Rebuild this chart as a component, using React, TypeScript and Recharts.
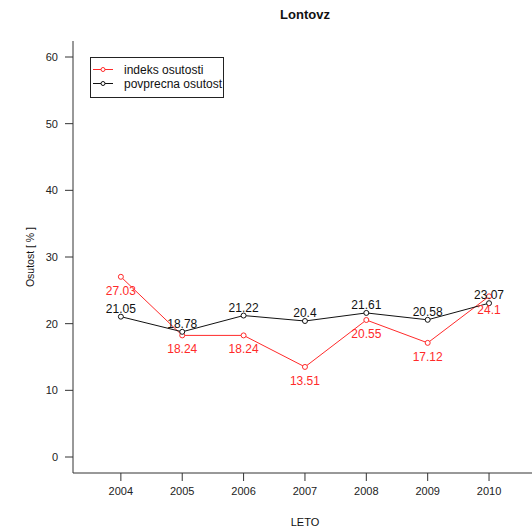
import React from 'react';
import { LineChart, Line, XAxis, YAxis, LabelList } from 'recharts';

const years = [2004, 2005, 2006, 2007, 2008, 2009, 2010];
const indeksOsutosti = [27.03, 18.24, 18.24, 13.51, 20.55, 17.12, 24.1];
const povprecnaOsutost = [21.05, 18.78, 21.22, 20.4, 21.61, 20.58, 23.07];
const yTicks = [0, 10, 20, 30, 40, 50, 60];

const data = years.map((y, i) => ({ year: y, idx: indeksOsutosti[i], avg: povprecnaOsutost[i] }));

const FONT = 'Arial, "Liberation Sans", sans-serif';
const RED = '#ff2a2a';

const dot = (color: string) => (props: any) => {
  const { cx, cy, index } = props;
  if (cx == null || cy == null) return null;
  return <circle key={index} cx={cx} cy={cy} r={2.5} fill="#fff" stroke={color} strokeWidth={1} />;
};

const makeLabel = (color: string, dy: number) => (props: any) => {
  const { x, y, value, index } = props;
  return (
    <text key={index} x={x} y={y + dy} fill={color} fontSize={12} fontFamily={FONT} textAnchor="middle" dominantBaseline="central">
      {value}
    </text>
  );
};

export default function App() {
  return (
    <div style={{ position: 'absolute', left: 0, top: 0, width: 532, height: 531, background: '#fff', fontFamily: FONT }}>
      <LineChart width={532} height={531} data={data} margin={{ top: 41, right: 0, bottom: 0, left: 0 }}>
        <XAxis
          xAxisId="top"
          orientation="top"
          dataKey="year"
          type="number"
          domain={[2003.22, 2010.7]}
          allowDataOverflow
          height={0}
          tick={false}
          tickLine={false}
          axisLine={{ stroke: '#333' }}
        />
        <XAxis
          dataKey="year"
          type="number"
          domain={[2003.22, 2010.7]}
          allowDataOverflow
          ticks={years}
          height={58}
          tickSize={8}
          tickMargin={6}
          axisLine={{ stroke: '#333' }}
          tickLine={{ stroke: '#333' }}
          tick={{ fill: '#222', fontSize: 11, fontFamily: FONT }}
        />
        <YAxis
          type="number"
          domain={[-2.4, 62.4]}
          allowDataOverflow
          ticks={yTicks}
          width={73}
          tickSize={8}
          tickMargin={7}
          axisLine={{ stroke: '#333' }}
          tickLine={{ stroke: '#333' }}
          tick={{ fill: '#222', fontSize: 11, fontFamily: FONT }}
        />
        <Line
          dataKey="idx"
          stroke={RED}
          strokeWidth={1}
          dot={dot(RED)}
          activeDot={false}
          isAnimationActive={false}
        >
          <LabelList dataKey="idx" content={makeLabel(RED, 14)} />
        </Line>
        <Line
          dataKey="avg"
          stroke="#111"
          strokeWidth={1}
          dot={dot('#111')}
          activeDot={false}
          isAnimationActive={false}
        >
          <LabelList dataKey="avg" content={makeLabel('#111', -8)} />
        </Line>
      </LineChart>

      <div style={{ position: 'absolute', left: 0, width: 610, top: 6, textAlign: 'center', fontWeight: 'bold', fontSize: 13, lineHeight: '17px', color: '#111' }}>
        Lontovz
      </div>
      <div style={{ position: 'absolute', left: 0, width: 610, top: 515, textAlign: 'center', fontSize: 11, lineHeight: '14px', color: '#111' }}>
        LETO
      </div>
      <div style={{ position: 'absolute', left: 30 - 50, top: 257 - 7, width: 100, textAlign: 'center', fontSize: 10.5, lineHeight: '14px', color: '#111', transform: 'rotate(-90deg)' }}>
        Osutost [ % ]
      </div>

      <div style={{ position: 'absolute', left: 90, top: 57, width: 132, height: 39, border: '1px solid #222', background: '#fff' }}>
        <svg width={132} height={39} style={{ position: 'absolute', left: 0, top: 0 }}>
          <line x1={2} x2={22} y1={11.5} y2={11.5} stroke={RED} strokeWidth={1} />
          <circle cx={12} cy={11.5} r={2} fill="#fff" stroke={RED} />
          <line x1={2} x2={22} y1={25.5} y2={25.5} stroke="#111" strokeWidth={1} />
          <circle cx={12} cy={25.5} r={2} fill="#fff" stroke="#111" />
          <text x={33} y={11.5} fontSize={12} fontFamily={FONT} fill="#111" dominantBaseline="central">indeks osutosti</text>
          <text x={33} y={25.5} fontSize={12} fontFamily={FONT} fill="#111" dominantBaseline="central">povprecna osutost</text>
        </svg>
      </div>
    </div>
  );
}
